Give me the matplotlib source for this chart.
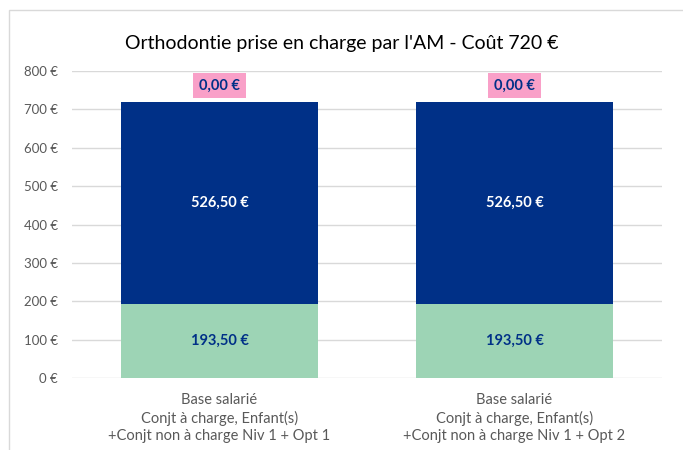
import matplotlib.pyplot as plt
from matplotlib.patches import Rectangle

plt.rcParams['font.family'] = ['Lato', 'DejaVu Sans']

categories = [
    "Base salarié\nConjt à charge, Enfant(s)\n+Conjt non à charge Niv 1 + Opt 1",
    "Base salarié\nConjt à charge, Enfant(s)\n+Conjt non à charge Niv 1 + Opt 2",
]
base_am = [193.50, 193.50]
complementaire = [526.50, 526.50]
reste_charge = [0.00, 0.00]
yticks = [0, 100, 200, 300, 400, 500, 600, 700, 800]


def euro(v):
    return f"{v:,.2f}".replace(",", " ").replace(".", ",") + " €"


fig = plt.figure(figsize=(6.83, 4.5), dpi=100)
fig.patches.append(Rectangle((9 / 683, -0.1), 1.0, 1.1 - 10 / 450, transform=fig.transFigure,
                             fill=False, edgecolor='#d9d9d9', linewidth=1))
ax = fig.add_axes([72 / 683, 1 - 378 / 450, 590 / 683, 307 / 450])

x = range(len(categories))
width = 0.668
ax.bar(x, base_am, width, color='#9dd4b5', zorder=2)
ax.bar(x, complementaire, width, bottom=base_am, color='#003087', zorder=2)
tops = [a + b for a, b in zip(base_am, complementaire)]
ax.bar(x, reste_charge, width, bottom=tops, color='#f9a0c8', zorder=2)

for i in x:
    ax.text(i, base_am[i] / 2, euro(base_am[i]), ha='center', va='center',
            color='#003087', fontsize=10.5, fontweight='bold', zorder=3)
    ax.text(i, base_am[i] + complementaire[i] / 2, euro(complementaire[i]), ha='center',
            va='center', color='white', fontsize=10.5, fontweight='bold', zorder=3)
    ax.text(i, tops[i] + reste_charge[i] + 42, euro(reste_charge[i]), ha='center', va='center',
            color='#003087', fontsize=10.5, fontweight='bold', zorder=3,
            bbox=dict(boxstyle='square,pad=0.4', facecolor='#f9a0c8', edgecolor='none'))

ax.set_xlim(-0.5, 1.5)
ax.set_ylim(0, 800)
ax.set_yticks(yticks)
ax.set_yticklabels([f"{t} €" for t in yticks])
ax.set_xticks(list(x))
ax.set_xticklabels(categories, linespacing=1.3)
ax.tick_params(axis='both', length=0, colors='#595959')
ax.tick_params(axis='x', pad=11, labelsize=10.5)
ax.tick_params(axis='y', pad=10, labelsize=9.5)
ax.grid(axis='y', color='#d9d9d9', linewidth=1, zorder=0)
for s in ax.spines.values():
    s.set_visible(False)

fig.text(0.5, 1 - 44 / 450, "Orthodontie prise en charge par l'AM - Coût 720 €",
         ha='center', va='center', fontsize=14, color='black')

plt.savefig('out.png', dpi=100)
